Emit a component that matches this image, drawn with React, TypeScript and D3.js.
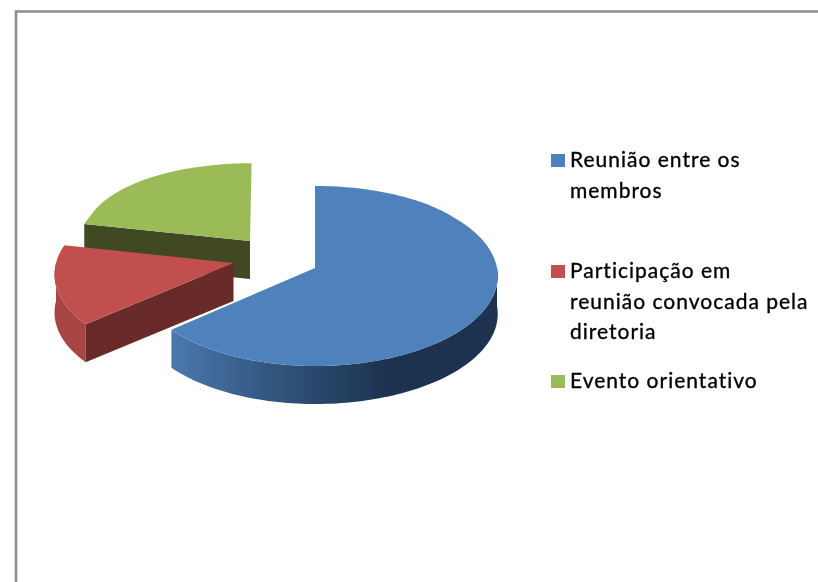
import React from "react";
import * as d3 from "d3";

const categories = [
  "Reunião entre os membros",
  "Participação em reunião convocada pela diretoria",
  "Evento orientativo",
];
const values = [63.7, 14.6, 21.7];
const legendLines = [
  ["Reunião entre os", "membros"],
  ["Participação em", "reunião convocada pela", "diretoria"],
  ["Evento orientativo"],
];
const topColors = ["#4f81bd", "#c0504d", "#9bbb59"];

const width = 818;
const height = 582;
const legendBaselines = [167, 278, 388];

// perspective of the pie plane, x and z are in pie radii
const cx = 315;
const cy = 268;
const rx = 182;
const ry = 89.3;
const persp = 0.0889;
const depth = 38;

// how far each slice is pulled away from the blue apex
const explode = [
  { x: 0, z: 0 },
  { x: -0.45, z: 0.056 },
  { x: -0.367, z: 0.31 },
];

type P = [number, number];

const project = (x: number, z: number): P => {
  // x converges less at the far side, the green edge stays almost vertical
  const wx = 1 + persp * Math.min(z, 0.6);
  const wz = 1 + persp * z;
  return [cx + (rx * x) / wx, cy - (ry * z) / wz];
};

const rimPoint = (i: number, a: number): P => {
  const sx = Math.sin(a) * (a > Math.PI ? 0.98 : 1);
  return project(explode[i].x + sx, explode[i].z + Math.cos(a));
};

const apex = (i: number): P => project(explode[i].x, explode[i].z);

const rim = (i: number, a0: number, a1: number): P[] => {
  const n = Math.max(2, Math.ceil(Math.abs(a1 - a0) * 40));
  return d3.range(n + 1).map((k) => rimPoint(i, a0 + ((a1 - a0) * k) / n));
};

const line = d3.line();
const drop = (pts: P[]): P[] =>
  pts.map(([x, y]) => [x, y + depth] as P).reverse();
const wall = (pts: P[]) => line([...pts, ...drop(pts)]) + "Z";

const arcs = d3
  .pie<number>()
  .sort(null)
  .startAngle(0)
  .endAngle(2 * Math.PI)(values);

const color = d3.scaleOrdinal<number, string>().domain([0, 1, 2]).range(topColors);

const labelFont = "Lato, Carlito, 'Open Sans', sans-serif";

export default function App() {
  const [blue, red, green] = arcs;
  return (
    <svg
      width={width}
      height={height}
      style={{ position: "absolute", left: 0, top: 0, background: "#fff" }}
    >
      <defs>
        <linearGradient id="blueSide" gradientUnits="userSpaceOnUse" x1={173} x2={385} y1={0} y2={0}>
          <stop offset="0" stopColor="#4a78ae" />
          <stop offset="0.45" stopColor="#335780" />
          <stop offset="1" stopColor="#1d3350" />
        </linearGradient>
        <filter id="soft" x="-5%" y="-5%" width="110%" height="110%">
          <feGaussianBlur stdDeviation="0.5" />
        </filter>
      </defs>

      <path d="M16,582V11.5H818" fill="none" stroke="#8c8c8c" strokeWidth={2.6} />

      <g filter="url(#soft)">
        {/* green */}
        <path d={wall([apex(2), rimPoint(2, green.startAngle)])} fill="#404822" />
        <path
          d={line([apex(2), ...rim(2, green.startAngle, green.endAngle)]) + "Z"}
          fill={color(2)}
        />

        {/* red */}
        <path d={wall(rim(1, red.startAngle, (3 * Math.PI) / 2))} fill="#a64442" />
        <path d={wall([apex(1), rimPoint(1, red.startAngle)])} fill="#692a29" />
        <path
          d={line([apex(1), ...rim(1, red.startAngle, red.endAngle)]) + "Z"}
          fill={color(1)}
        />

        {/* blue */}
        <path d={wall(rim(0, Math.PI / 2, blue.endAngle))} fill="url(#blueSide)" />
        <path
          d={line([apex(0), ...rim(0, blue.startAngle, blue.endAngle)]) + "Z"}
          fill={color(0)}
        />
      </g>

      <g
        filter="url(#soft)"
        fontFamily={labelFont}
        fontSize={21}
        letterSpacing={1}
        fill="#000"
        stroke="#000"
        strokeWidth={0.35}
      >
        {categories.map((c, i) => (
          <g key={c}>
            <rect
              x={551}
              y={legendBaselines[i] - 13}
              width={14}
              height={13}
              fill={color(i)}
              stroke="none"
            />
            <text x={570} y={legendBaselines[i]}>
              {legendLines[i].map((l, j) => (
                <tspan key={l} x={570} y={legendBaselines[i] + j * 30.7}>
                  {l}
                </tspan>
              ))}
            </text>
          </g>
        ))}
      </g>
    </svg>
  );
}
